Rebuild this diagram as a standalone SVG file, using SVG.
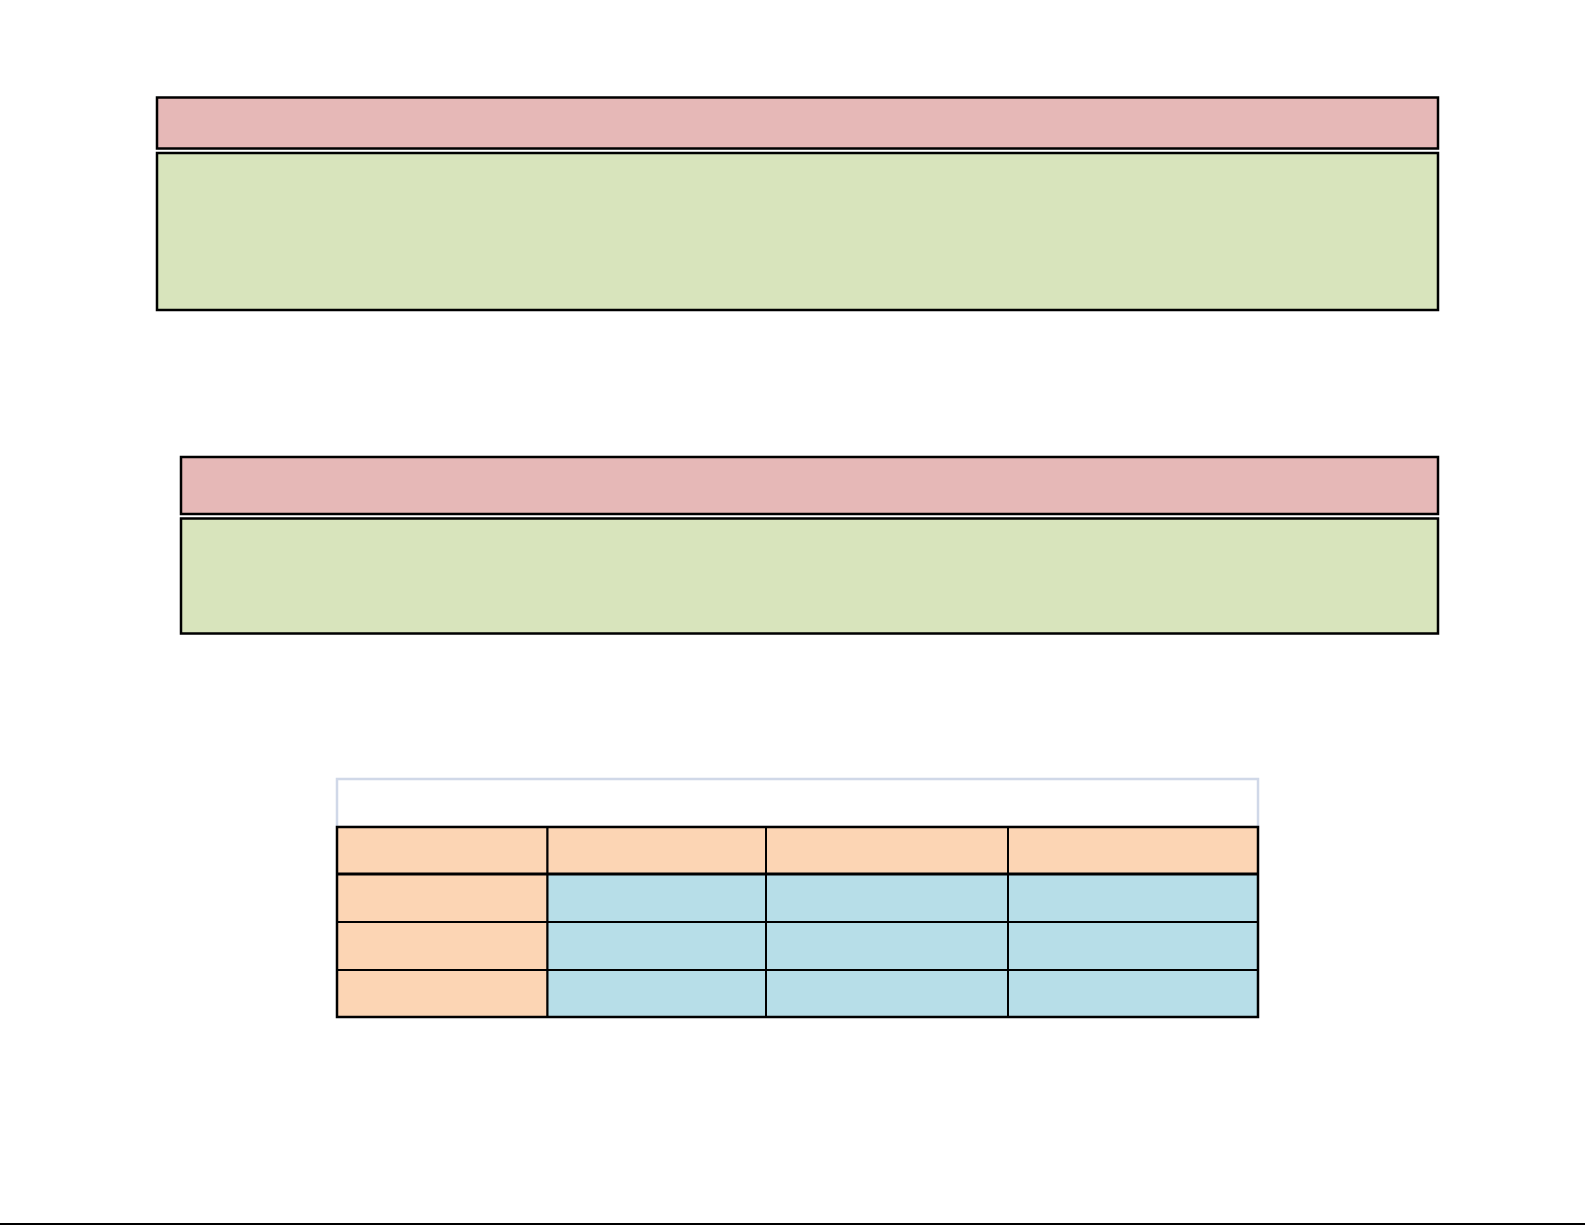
<svg xmlns="http://www.w3.org/2000/svg" width="1585" height="1225" viewBox="0 0 1585 1225">
<style>
.pink{fill:#E6B8B7;stroke:#000;stroke-width:2.5}
.green{fill:#D8E4BC;stroke:#000;stroke-width:2.5}
.peach{fill:#FCD5B4;stroke:#000;stroke-width:2}
.blue{fill:#B7DEE8;stroke:#000;stroke-width:2}
.ln{stroke:#000;stroke-width:2;fill:none}
</style>
<rect width="1585" height="1225" fill="#fff"/>
<g id="box1">
<rect class="pink" x="157" y="97.5" width="1281" height="51"/>
<rect class="green" x="157" y="153" width="1281" height="157"/>
</g>
<g id="box2">
<rect class="pink" x="181" y="457" width="1257" height="57"/>
<rect class="green" x="181" y="518.5" width="1257" height="115"/>
</g>
<g id="table">
<rect x="337" y="779" width="921" height="48" fill="#fff" stroke="#D0D8E8" stroke-width="2.5"/>
<rect class="peach" x="337" y="827" width="210.5" height="47"/>
<rect class="peach" x="547.5" y="827" width="218.5" height="47"/>
<rect class="peach" x="766" y="827" width="242" height="47"/>
<rect class="peach" x="1008" y="827" width="250" height="47"/>
<rect class="peach" x="337" y="874" width="210.5" height="48"/>
<rect class="peach" x="337" y="922" width="210.5" height="48"/>
<rect class="peach" x="337" y="970" width="210.5" height="47"/>
<rect class="blue" x="547.5" y="874" width="218.5" height="48"/>
<rect class="blue" x="766" y="874" width="242" height="48"/>
<rect class="blue" x="1008" y="874" width="250" height="48"/>
<rect class="blue" x="547.5" y="922" width="218.5" height="48"/>
<rect class="blue" x="766" y="922" width="242" height="48"/>
<rect class="blue" x="1008" y="922" width="250" height="48"/>
<rect class="blue" x="547.5" y="970" width="218.5" height="47"/>
<rect class="blue" x="766" y="970" width="242" height="47"/>
<rect class="blue" x="1008" y="970" width="250" height="47"/>
<line x1="337" y1="874" x2="1258" y2="874" stroke="#000" stroke-width="3"/>
<rect x="337" y="827" width="921" height="190" fill="none" stroke="#000" stroke-width="2.5"/>
</g>
<g id="connectors">
<line class="ln" x1="0" y1="1224" x2="1585" y2="1224"/>
</g>
</svg>
